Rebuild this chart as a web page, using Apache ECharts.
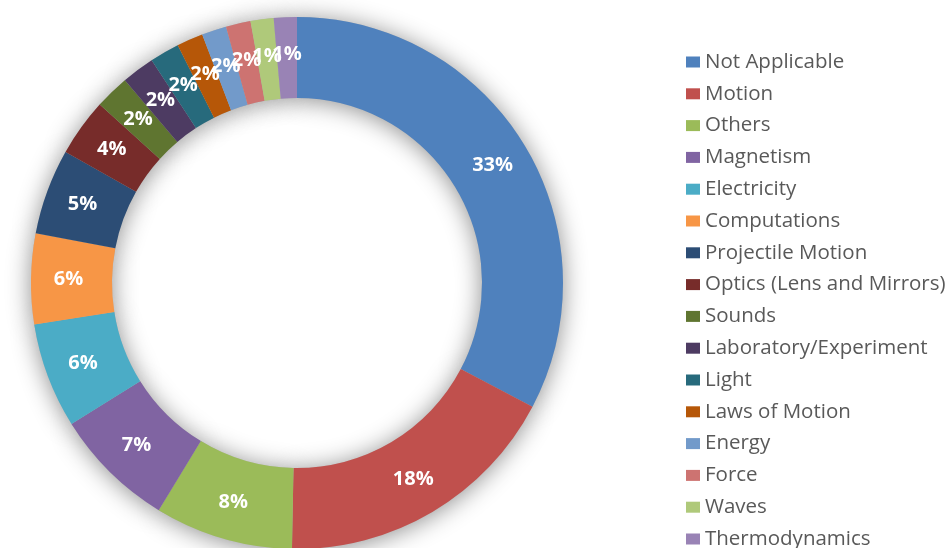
<!DOCTYPE html>
<html>
<head>
<meta charset="utf-8">
<script src="https://cdn.jsdelivr.net/npm/echarts@6/dist/echarts.min.js"></script>
<style>
html,body{margin:0;padding:0;background:#fff;}
#chart{width:952px;height:548px;}
</style>
</head>
<body>
<div id="chart"></div>
<script>
const categories = ['Not Applicable','Motion','Others','Magnetism','Electricity','Computations','Projectile Motion','Optics (Lens and Mirrors)','Sounds','Laboratory/Experiment','Light','Laws of Motion','Energy','Force','Waves','Thermodynamics'];
const values = [32.7, 17.6, 8.4, 7.4, 6.4, 5.5, 5.2, 3.5, 2.1, 2.0, 1.8, 1.6, 1.5, 1.5, 1.4, 1.4];
const pctLabels = ['33%','18%','8%','7%','6%','6%','5%','4%','2%','2%','2%','2%','2%','2%','1%','1%'];
const colors = ['#4F81BD','#C0504D','#9BBB59','#8064A2','#4BACC6','#F79646','#2C4D75','#772C2A','#5F7530','#4D3B62','#276A7C','#B65708','#729ACA','#CD7371','#AFC97A','#9983B5'];

const chart = echarts.init(document.getElementById('chart'), null, {renderer: 'canvas'});
const mainData = categories.map((c, i) => ({name: c, value: values[i], itemStyle: {color: colors[i]}}));
const bgData = categories.map((c, i) => ({name: '_bg' + i, value: values[i]}));

chart.setOption({
  animation: false,
  backgroundColor: '#ffffff',
  legend: {
    orient: 'vertical',
    left: 686,
    top: 51,
    height: 600,
    padding: 0,
    itemWidth: 14,
    itemHeight: 11,
    itemGap: 9.8,
    icon: 'rect',
    data: categories,
    selectedMode: false,
    textStyle: {fontFamily: 'Open Sans', fontSize: 20.5, color: '#595959', lineHeight: 22}
  },
  series: [
    {
      type: 'pie',
      z: 3,
      center: [297, 283],
      radius: [185, 266],
      startAngle: 90,
      clockwise: true,
      avoidLabelOverlap: false,
      silent: true,
      itemStyle: {borderWidth: 0},
      labelLayout: {hideOverlap: false},
      label: {
        show: true,
        position: 'inside',
        color: '#ffffff',
        fontFamily: 'Open Sans',
        fontWeight: 'bold',
        fontSize: 20,
        formatter: p => pctLabels[p.dataIndex]
      },
      labelLine: {show: false},
      data: mainData
    },
    {
      type: 'pie',
      z: 1,
      center: [297, 283],
      radius: [185, 266],
      startAngle: 90,
      clockwise: true,
      silent: true,
      itemStyle: {color: '#bbbbbb', borderWidth: 0, shadowBlur: 24, shadowColor: 'rgba(0,0,0,0.45)', shadowOffsetX: 0, shadowOffsetY: 2},
      label: {show: false},
      labelLine: {show: false},
      data: bgData
    }
  ]
});
</script>
</body>
</html>
